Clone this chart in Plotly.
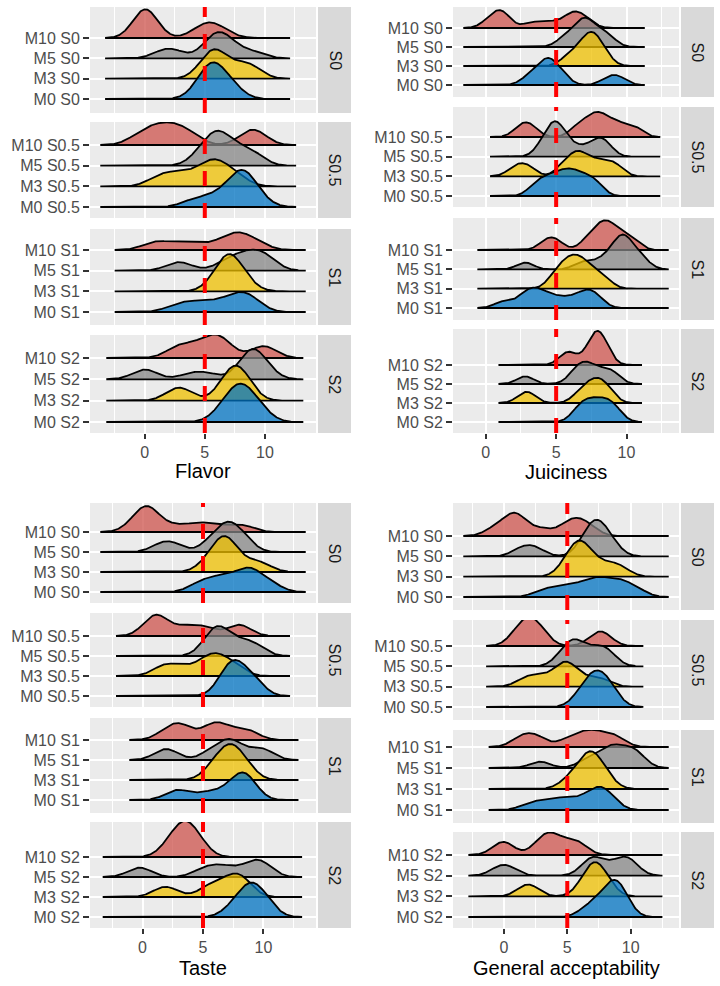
import numpy as np
import plotly.graph_objects as go

# ---------------- data ----------------
methods = ["M10", "M5", "M3", "M0"]
storages = ["S0", "S0.5", "S1", "S2"]
attributes = ["Flavor", "Juiciness", "Taste", "General acceptability"]
x_ticks = [0, 5, 10]
reference_score = 5

# panelist scores per group (Flavor)
flavor_S0 = {"M10": [-0.3, -0.1, 0.0, 0.1, 0.2, 0.4, 4.5, 5.2, 5.6, 6.5],
             "M5": [1.5, 2.5, 5.3, 5.8, 6.0, 6.3, 6.8, 7.5, 9.1],
             "M3": [5.0, 5.5, 5.7, 6.0, 6.3, 7.5, 8.5, 9.0],
             "M0": [4.5, 5.0, 5.3, 5.5, 5.6, 5.8, 6.0, 6.5, 7.0, 7.5]}
flavor_S05 = {"M10": [-0.7, 0.3, 0.8, 1.5, 2.0, 2.6, 3.2, 4.0, 8.5, 9.0, 9.5],
              "M5": [4.5, 5.3, 5.8, 6.0, 6.3, 6.8, 7.5, 8.5, 9.2],
              "M3": [1.0, 2.0, 3.0, 4.0, 5.0, 5.5, 5.8, 6.2, 7.0, 7.8],
              "M0": [4.0, 5.5, 6.5, 7.3, 7.8, 8.0, 8.2, 8.4, 8.7, 9.6]}
flavor_S1 = {"M10": [0.5, 1.5, 3.0, 4.2, 6.0, 7.0, 7.5, 8.0, 8.5, 9.5],
             "M5": [2.5, 3.2, 6.5, 7.3, 8.0, 8.5, 9.0, 9.5, 10.0, 10.4],
             "M3": [5.8, 6.5, 6.8, 7.0, 7.0, 7.1, 7.3, 7.8, 8.5],
             "M0": [2.5, 3.5, 4.5, 5.5, 6.5, 7.3, 7.8, 8.2, 8.7, 9.2]}
flavor_S2 = {"M10": [2.5, 3.3, 4.5, 5.3, 5.8, 6.3, 6.8, 9.6, 10.2],
             "M5": [-0.2, 0.2, 3.8, 5.3, 8.3, 8.6, 8.8, 9.0, 9.2, 9.5, 10.2],
             "M3": [2.5, 3.2, 6.6, 7.1, 7.5, 7.7, 8.0, 8.5],
             "M0": [6.3, 6.9, 7.3, 7.7, 8.0, 8.0, 8.3, 8.7, 9.2, 9.8]}

# Juiciness
juiciness_S0 = {"M10": [0.2, 0.8, 1.1, 1.4, 3.3, 4.6, 5.8, 6.2, 6.6, 7.2],
                "M5": [5.5, 6.3, 6.7, 7.0, 7.2, 7.6, 8.2, 8.8],
                "M3": [5.8, 6.5, 7.0, 7.3, 7.5, 7.7, 8.0, 8.5],
                "M0": [3.0, 3.7, 4.1, 4.4, 4.6, 4.9, 5.5, 8.7, 9.5]}
juiciness_S05 = {"M10": [2.5, 3.2, 6.5, 7.3, 7.8, 8.2, 8.8, 9.6, 10.6],
                 "M5": [4.0, 4.5, 4.8, 5.0, 5.2, 5.6, 6.5, 7.6, 8.1, 8.6],
                 "M3": [2.1, 3.0, 5.5, 6.2, 6.6, 7.0, 7.8, 8.5, 9.3],
                 "M0": [3.5, 4.2, 4.8, 5.3, 5.8, 6.2, 6.7, 7.3, 7.9]}
juiciness_S1 = {"M10": [4.3, 5.0, 7.2, 7.8, 8.2, 8.5, 8.8, 9.2, 9.8, 10.5],
                "M5": [2.8, 6.8, 8.0, 8.8, 9.3, 9.5, 9.7, 9.9, 10.2, 10.6, 11.2],
                "M3": [4.8, 5.3, 5.7, 6.0, 6.3, 6.6, 6.9, 7.3, 7.8, 8.5],
                "M0": [1.2, 2.5, 3.0, 3.4, 3.8, 4.3, 5.0, 5.8, 6.6, 7.1, 7.5, 8.0]}
juiciness_S2 = {"M10": [5.7, 6.0, 7.4, 7.7, 7.85, 8.0, 8.2, 8.5],
                "M5": [2.8, 6.3, 6.8, 7.2, 7.7, 8.5, 9.1],
                "M3": [2.7, 3.1, 6.6, 7.1, 7.5, 7.8, 8.1, 8.4, 8.8],
                "M0": [6.5, 6.9, 7.3, 7.7, 8.1, 8.5, 8.9, 9.3]}

# Taste
taste_S0 = {"M10": [-0.8, -0.1, 0.2, 0.4, 0.7, 1.2, 2.7, 4.3, 5.3, 7.0, 8.5],
            "M5": [1.5, 2.6, 5.5, 6.3, 6.8, 7.1, 7.4, 7.9, 8.6],
            "M3": [5.2, 6.0, 6.4, 6.6, 6.8, 7.0, 7.3, 7.8, 9.0, 10.0],
            "M0": [4.5, 5.5, 6.3, 7.0, 7.8, 8.4, 8.8, 9.2, 9.7, 10.8]}
taste_S05 = {"M10": [0.5, 0.9, 1.3, 1.7, 3.2, 4.3, 5.5, 7.7, 8.3],
             "M5": [5.3, 5.8, 6.1, 6.3, 6.6, 7.2, 8.0, 8.8, 9.5],
             "M3": [1.5, 2.3, 3.5, 4.8, 5.5, 5.9, 6.3, 7.0, 7.8],
             "M0": [6.6, 7.0, 7.3, 7.5, 7.7, 8.0, 8.5, 9.2, 9.4]}
taste_S1 = {"M10": [1.8, 2.6, 3.1, 3.6, 5.3, 5.9, 6.3, 7.0, 8.2, 9.0],
            "M5": [1.6, 2.3, 5.5, 6.5, 7.0, 7.5, 8.0, 9.5, 10.2],
            "M3": [5.6, 6.2, 6.7, 7.0, 7.2, 7.5, 7.8, 8.2, 8.8],
            "M0": [2.5, 3.2, 5.0, 6.3, 7.4, 7.9, 8.2, 8.4, 8.7, 9.1]}
taste_S2 = {"M10": [2.0, 2.6, 3.0, 3.3, 3.5, 3.7, 4.0, 4.4, 4.9],
            "M5": [-0.6, 0.1, 4.8, 5.8, 6.5, 7.5, 8.8, 9.3, 9.7, 10.3],
            "M3": [1.5, 2.3, 5.2, 6.0, 6.8, 7.4, 7.8, 8.2, 8.6],
            "M0": [7.3, 8.0, 8.5, 8.8, 9.0, 9.2, 9.5, 10.0, 10.5]}

# General acceptability
general_S0 = {"M10": [-0.8, 0.3, 0.7, 1.0, 1.5, 3.0, 4.8, 5.5, 6.0, 6.8],
              "M5": [1.4, 2.5, 6.3, 6.8, 7.1, 7.3, 7.6, 8.0, 8.6],
              "M3": [4.8, 5.4, 5.7, 5.9, 6.1, 6.4, 6.8, 7.6, 8.5, 9.3],
              "M0": [3.0, 4.2, 5.2, 6.1, 6.8, 7.3, 7.8, 8.5, 9.1, 9.6, 10.6]}
general_S05 = {"M10": [1.0, 1.6, 2.0, 2.4, 3.0, 7.3, 7.9],
               "M5": [4.6, 5.2, 5.5, 5.8, 6.5, 7.3, 7.9, 8.3],
               "M3": [1.6, 2.4, 3.3, 4.3, 4.7, 4.9, 5.1, 5.6, 6.8, 7.8],
               "M0": [6.0, 6.5, 6.9, 7.2, 7.5, 7.8, 8.2, 8.6]}
general_S1 = {"M10": [1.2, 2.0, 2.8, 5.0, 6.0, 6.7, 7.3, 8.2, 9.0],
              "M5": [2.85, 6.5, 7.5, 8.2, 8.6, 9.0, 9.7, 10.3, 10.6],
              "M3": [5.0, 5.8, 6.3, 6.6, 6.8, 7.0, 7.2, 7.6, 8.2],
              "M0": [2.0, 3.2, 4.2, 5.0, 6.0, 6.8, 7.3, 7.6, 8.0, 8.5]}
general_S2 = {"M10": [-0.3, 0.2, 2.8, 3.3, 3.8, 4.3, 5.4, 6.0],
              "M5": [-0.4, 0.4, 6.6, 7.0, 7.3, 8.4, 9.3, 9.7, 10.1],
              "M3": [1.7, 2.1, 6.3, 6.7, 7.0, 7.2, 7.4, 7.7, 8.2],
              "M0": [6.5, 7.3, 7.9, 8.3, 8.6, 8.8, 9.0, 9.2, 9.5]}

panels = {
    "Flavor": [flavor_S0, flavor_S05, flavor_S1, flavor_S2],
    "Juiciness": [juiciness_S0, juiciness_S05, juiciness_S1, juiciness_S2],
    "Taste": [taste_S0, taste_S05, taste_S1, taste_S2],
    "General acceptability": [general_S0, general_S05, general_S1, general_S2],
}
# joint kernel bandwidth per plot (density estimation parameter)
bandwidth = {"Flavor": 1.0, "Juiciness": 0.6, "Taste": 0.9, "General acceptability": 0.8}

# ---------------- style / layout ----------------
W, H = 720, 986
FONT = "Liberation Sans, Arial, sans-serif"
fills = {"M10": "rgba(205,83,76,0.75)", "M5": "rgba(134,134,134,0.75)",
         "M3": "rgba(239,192,0,0.75)", "M0": "rgba(0,115,194,0.75)"}
rows = {"M0": 1, "M3": 2, "M5": 3, "M10": 4}
ridge_scale = 1.8
# pixel geometry: plot x-extent, strip x-extent, facets (top, bottom, y of M10 row, y of M0 row), title pos
geom = {
    "Flavor": dict(x=(90, 316), strip=(318, 351),
                   facets=[(7, 113, 38, 99), (122, 218, 145, 207), (229, 325, 250, 312), (335, 433, 358, 422)],
                   title=(203, 471)),
    "Juiciness": dict(x=(453, 679), strip=(681, 714),
                      facets=[(7, 97, 28, 85), (107, 207, 137, 196), (218, 320, 250, 308), (329, 433, 365, 422)],
                      title=(566, 472)),
    "Taste": dict(x=(90, 316), strip=(318, 351),
                  facets=[(503, 603, 532, 592), (613, 707, 636, 696), (718, 813, 740, 800), (822, 928, 857, 917)],
                  title=(203, 968)),
    "General acceptability": dict(x=(453, 679), strip=(681, 714),
                                  facets=[(503, 610, 536, 597), (620, 720, 646, 707), (730, 823, 747, 810), (832, 928, 855, 917)],
                                  title=(566, 968)),
}


def kde(values, grid, bw):
    v = np.asarray(values, dtype=float)[:, None]
    z = (grid[None, :] - v) / bw
    return np.exp(-0.5 * z * z).sum(axis=0) / (len(values) * bw * np.sqrt(2 * np.pi))


fig = go.Figure()
layout = dict(width=W, height=H, margin=dict(l=0, r=0, t=0, b=0),
              plot_bgcolor="#EBEBEB", paper_bgcolor="white", showlegend=False,
              font=dict(family=FONT))
shapes, annotations = [], []

for p, attr in enumerate(attributes):
    g = geom[attr]
    bw = bandwidth[attr]
    facets = panels[attr]
    spans = [(min(min(v) for v in fd.values()) - 3 * bw, max(max(v) for v in fd.values()) + 3 * bw)
             for fd in facets]
    lo = min(s[0] for s in spans)
    hi = max(s[1] for s in spans)
    pad = 0.05 * (hi - lo)
    xrange = [lo - pad, hi + pad]
    for f, st in enumerate(storages):
        k = p * 4 + f + 1
        sx = "" if k == 1 else str(k)
        T, B, y10, y0 = g["facets"][f]
        s = (y0 - y10) / 3.0
        yrange = [1 - (B - y0) / s, 4 + (y10 - T) / s]
        grid = np.linspace(spans[f][0], spans[f][1], 500)
        dens = {m: kde(facets[f][m], grid, bw) for m in methods}
        dmax = max(d.max() for d in dens.values())
        for m in methods:
            r = rows[m]
            top = r + ridge_scale * dens[m] / dmax
            xs = np.concatenate([grid, grid[::-1]])
            ys = np.concatenate([top, np.full_like(grid, r)])
            fig.add_trace(go.Scatter(x=xs, y=ys, mode="lines", fill="toself",
                                     fillcolor=fills[m], line=dict(color="black", width=1.8),
                                     xaxis="x" + sx, yaxis="y" + sx, hoverinfo="skip"))
        bottom = (f == 3)
        layout["xaxis" + sx] = dict(
            domain=[g["x"][0] / W, g["x"][1] / W], anchor="y" + sx, range=xrange,
            tickvals=x_ticks, showticklabels=bottom, ticks="outside" if bottom else "",
            ticklen=5, tickwidth=1.5, tickcolor="#333333",
            tickfont=dict(size=16, color="#4D4D4D", family=FONT),
            showgrid=True, gridcolor="white", gridwidth=1.6, zeroline=False, showline=False,
            minor=dict(tickvals=[-2.5, 2.5, 7.5, 12.5], showgrid=True, gridcolor="white",
                       gridwidth=0.8, ticks=""),
        )
        layout["yaxis" + sx] = dict(
            domain=[1 - B / H, 1 - T / H], anchor="x" + sx, range=yrange,
            tickvals=[rows[m] for m in methods], ticktext=[f"{m} {st}" for m in methods],
            ticks="outside", ticklen=6, tickwidth=1.5, tickcolor="#333333",
            tickfont=dict(size=16, color="#4D4D4D", family=FONT),
            showgrid=True, gridcolor="white", gridwidth=1.6, zeroline=False, showline=False,
        )
        # strip
        shapes.append(dict(type="rect", xref="paper", yref="paper",
                           x0=g["strip"][0] / W, x1=g["strip"][1] / W,
                           y0=1 - B / H, y1=1 - T / H, fillcolor="#D9D9D9", line=dict(width=0),
                           layer="below"))
        annotations.append(dict(text=st, xref="paper", yref="paper",
                                x=(g["strip"][0] + g["strip"][1]) / 2 / W, y=1 - (T + B) / 2 / H,
                                textangle=90, showarrow=False, xanchor="center", yanchor="middle",
                                font=dict(size=16, color="#1A1A1A", family=FONT)))
        # reference line
        shapes.append(dict(type="line", xref="x" + sx, yref="y" + sx + " domain",
                           x0=reference_score, x1=reference_score, y0=0, y1=1,
                           line=dict(color="#FF0000", width=4, dash="15px,17px"), layer="above"))
    annotations.append(dict(text=attr, xref="paper", yref="paper",
                            x=g["title"][0] / W, y=1 - g["title"][1] / H, showarrow=False,
                            xanchor="center", yanchor="middle",
                            font=dict(size=20, color="black", family=FONT)))

layout["shapes"] = shapes
layout["annotations"] = annotations
fig.update_layout(**layout)
fig.write_html("out.html")
